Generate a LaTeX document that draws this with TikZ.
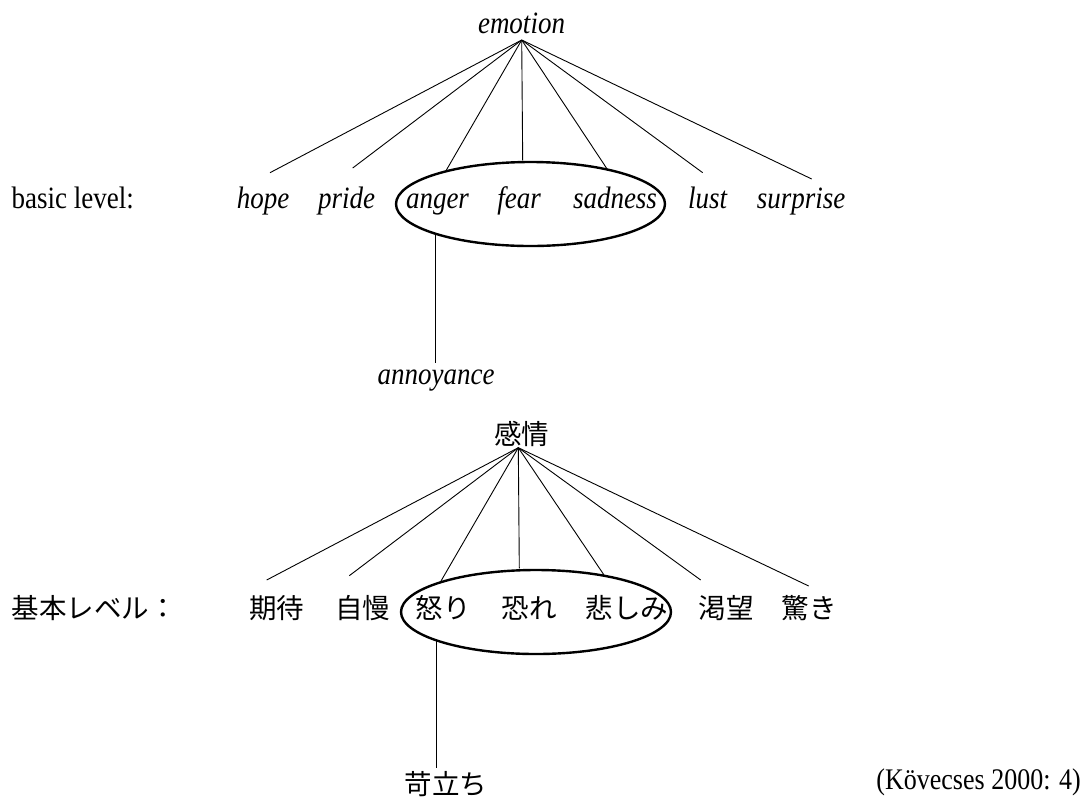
\documentclass[tikz,border=0pt]{standalone}
\usepackage{graphicx}
\usepackage{fontspec}
\setmainfont{Liberation Serif}
\newfontfamily\jp{Noto Sans CJK JP}
\usetikzlibrary{shapes.geometric}
\newcommand{\tall}[1]{\scalebox{1}[1.15]{#1}}
\begin{document}
\begin{tikzpicture}[x=1pt,y=-1pt,
  lbl/.style={inner sep=0pt, anchor=base, font=\fontsize{27}{32}\selectfont},
  en/.style={lbl, font=\fontsize{27}{32}\selectfont\itshape},
  ja/.style={lbl, font=\fontsize{27.5}{32}\selectfont\jp},
  edge/.style={line width=0.9pt},
  ring/.style={draw, ellipse, line width=2.4pt, inner sep=0pt}]
\useasboundingbox (0,0) rectangle (1084,796);
\fill[white] (0,0) rectangle (1084,796);

% ---------- English tree ----------
\node[en] (emotion) at (521.5,33.5) {\tall{emotion}};
\node[lbl, anchor=base west] (basic) at (11.5,208) {\tall{basic level:}};
\node[en] (hope) at (263,208) {\tall{hope}};
\node[en] (pride) at (346.7,208) {\tall{pride}};
\node[en] (anger) at (437.5,208) {\tall{anger}};
\node[en] (fear) at (519,208) {\tall{fear}};
\node[en] (sadness) at (615,208) {\tall{sadness}};
\node[en] (lust) at (707.5,208) {\tall{lust}};
\node[en] (surprise) at (801,208) {\tall{surprise}};
\node[en] (annoyance) at (436,384) {\tall{annoyance}};
\node[ring, minimum width=269pt, minimum height=84pt] (ring1) at (530.5,204) {};

\coordinate (apex1) at (521.7,40);
\coordinate (hopeT) at (270,172.7);
\coordinate (prideT) at (352.7,168);
\coordinate (angerT) at (446,170.7);
\coordinate (fearT) at (522.7,160.7);
\coordinate (sadnessT) at (607.3,169.3);
\coordinate (lustT) at (702.7,172.7);
\coordinate (surpriseT) at (811.7,179);
\coordinate (annTop) at (435.5,234);
\coordinate (annBot) at (435.5,363);
\foreach \t in {hopeT,prideT,angerT,fearT,sadnessT,lustT,surpriseT}
  \draw[edge] (apex1) -- (\t);
\draw[edge] (annTop) -- (annBot);

% ---------- Japanese tree ----------
\node[ja] (kanjou) at (521.5,444) {感情};
\node[ja, anchor=base west] (kihon) at (11.5,618) {基本レベル：};
\node[ja] (kitai) at (276.5,618) {期待};
\node[ja] (jiman) at (362.5,618) {自慢};
\node[ja] (ikari) at (443,618) {怒り};
\node[ja] (osore) at (529,618) {恐れ};
\node[ja] (kanashimi) at (627,618) {悲しみ};
\node[ja] (katsubou) at (726,618) {渇望};
\node[ja] (odoroki) at (809,618) {驚き};
\node[ja] (iradachi) at (446,794) {苛立ち};
\node[ring, minimum width=270pt, minimum height=84pt] (ring2) at (536,612) {};

\coordinate (apex2) at (518.3,447.7);
\coordinate (kitaiT) at (266.7,580);
\coordinate (jimanT) at (349.3,575.7);
\coordinate (ikariT) at (441,581);
\coordinate (osoreT) at (519.3,568.3);
\coordinate (kanashimiT) at (604,575);
\coordinate (katsubouT) at (700.7,580);
\coordinate (odorokiT) at (808.7,586);
\coordinate (iraTop) at (436,640.5);
\coordinate (iraBot) at (436,768);
\foreach \t in {kitaiT,jimanT,ikariT,osoreT,kanashimiT,katsubouT,odorokiT}
  \draw[edge] (apex2) -- (\t);
\draw[edge] (iraTop) -- (iraBot);

% ---------- source ----------
\node[lbl, anchor=base east, font=\fontsize{26}{30}\selectfont] (source) at (1081,789) {\tall{(Kövecses 2000: 4)}};
\end{tikzpicture}
\end{document}
